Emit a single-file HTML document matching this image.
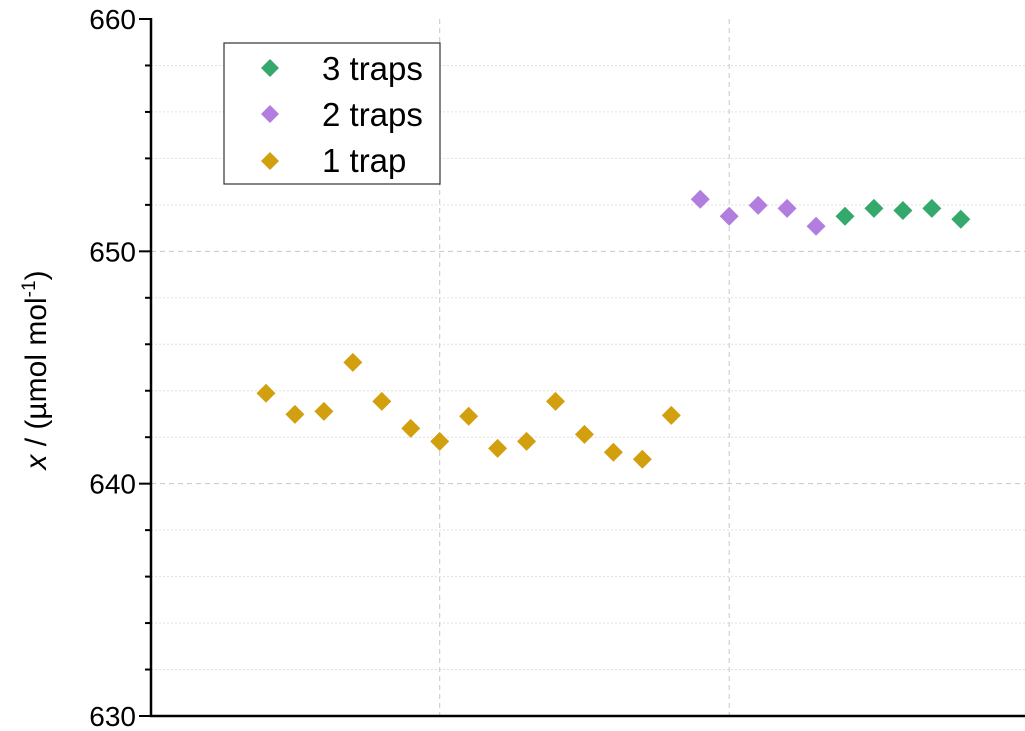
<!DOCTYPE html>
<html><head><meta charset="utf-8"><style>
body{margin:0;background:#fff}
svg{display:block;font-family:"Liberation Sans",sans-serif}
</style></head><body>
<svg id="chart" width="1025" height="731" viewBox="0 0 1025 731">
<g id="grid"></g>
<g id="axes"></g>
<g id="marks"></g>
<text transform="translate(46,370) rotate(-90)" text-anchor="middle" font-size="30"><tspan font-style="italic">x</tspan> / (µmol mol<tspan dy="-11" font-size="19">-1</tspan><tspan dy="11">)</tspan></text>
<g>
<rect x="224" y="43" width="216" height="141" fill="#fff" stroke="#333" stroke-width="1.2"/>
<path d="M270,59 L279,68 L270,77 L261,68Z" fill="#35a86c"/>
<text x="322" y="80" font-size="33">3 traps</text>
<path d="M270,105 L279,114 L270,123 L261,114Z" fill="#b17ee0"/>
<text x="322" y="126" font-size="33">2 traps</text>
<path d="M270,152 L279,161 L270,170 L261,161Z" fill="#d29f0f"/>
<text x="322" y="172" font-size="33">1 trap</text>
</g>
</svg>
<script>
const trap1 = [643.89,642.98,643.11,645.22,643.54,642.38,641.82,642.90,641.52,641.82,643.54,642.12,641.35,641.05,642.94];
const trap2 = [652.24,651.51,651.98,651.85,651.08];
const trap3 = [651.51,651.85,651.76,651.85,651.38];
const yTicks = [630,640,650,660];
const ns="http://www.w3.org/2000/svg";
const y=v=>716-(v-630)*(697/30);
const x=i=>266+(i-1)*28.95;
function mk(tag,attrs,parent){const e=document.createElementNS(ns,tag);for(const k in attrs)e.setAttribute(k,attrs[k]);parent.appendChild(e);return e;}
const grid=document.getElementById('grid'),axes=document.getElementById('axes'),marks=document.getElementById('marks');
for(let v=632;v<660;v+=2){
  const major=(v%10===0);
  const l=mk('line',{x1:151,x2:1025,y1:y(v),y2:y(v),stroke:major?'#c8c8c8':'#e0e0e0','stroke-width':1,'stroke-dasharray':major?'5,4':'2,2'},grid);
  
  
}
[7,17].forEach(i=>{
  const l=mk('line',{x1:x(i),x2:x(i),y1:19,y2:716,stroke:'#c8c8c8','stroke-width':1,'stroke-dasharray':'5,4'},grid);
  
  
});
const ax=mk('line',{x1:151,x2:151,y1:18,y2:717,stroke:'#000','stroke-width':2.5},axes);


const bx=mk('line',{x1:150,x2:1025,y1:716,y2:716,stroke:'#000','stroke-width':2.5},axes);


for(let v=630;v<=660;v+=2){
  const major=(v%10===0);
  const t=mk('line',{x1:major?139:145,x2:151,y1:y(v),y2:y(v),stroke:'#000','stroke-width':2},axes);
  
  
}
yTicks.forEach(v=>{
  const t=mk('text',{x:136,y:y(v)+10,'text-anchor':'end','font-size':28},axes);
  t.textContent=v;
  
  
});
function series(arr,start,color,name){
  arr.forEach((v,k)=>{
    const cx=x(start+k),cy=y(v);
    const p=mk('path',{d:`M${cx},${cy-9.5} L${cx+9.5},${cy} L${cx},${cy+9.5} L${cx-9.5},${cy}Z`,fill:color},marks);
    
    
  });
}
series(trap1,1,'#d29f0f','point-1-trap');
series(trap2,1+trap1.length,'#b17ee0','point-2-traps');
series(trap3,1+trap1.length+trap2.length,'#35a86c','point-3-traps');
</script>
</body></html>
